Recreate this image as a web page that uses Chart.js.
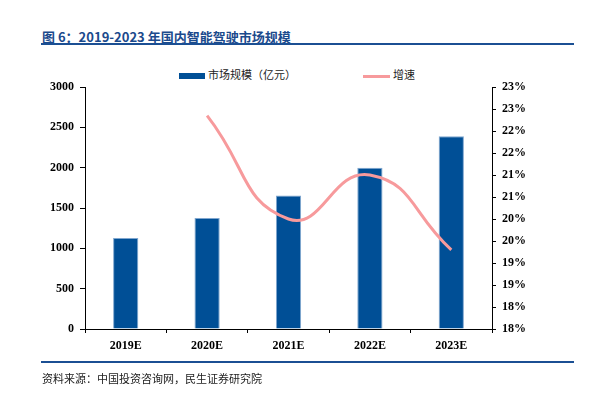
<!DOCTYPE html>
<html>
<head>
<meta charset="utf-8">
<script src="https://cdn.jsdelivr.net/npm/chart.js@4.4.0/dist/chart.umd.min.js"></script>
<style>
  html, body { margin: 0; padding: 0; background: #fff; }
  #wrap { position: relative; width: 616px; height: 395px; overflow: hidden; }
  #chart { position: absolute; left: 0; top: 0; }
  .title { position: absolute; left: 42px; top: 27px; font: bold 13px "Noto Sans CJK SC", sans-serif; color: #1b4a8c; white-space: nowrap; }
  .rule { position: absolute; left: 41px; width: 533px; height: 2px; background: #1b4f93; }
  .source { position: absolute; left: 42px; top: 370px; font: 11px "Noto Sans CJK SC", sans-serif; color: #222; white-space: nowrap; }
  .legend { position: absolute; top: 66px; font: 11px "Noto Sans CJK SC", sans-serif; color: #222; white-space: nowrap; }
  .legend i { display: inline-block; vertical-align: middle; margin-right: 3px; }
</style>
</head>
<body>
<div id="wrap">
  <div class="title">图 6：2019-2023 年国内智能驾驶市场规模</div>
  <div class="rule" style="top:43px"></div>
  <div class="legend" style="left:179px"><i style="width:26px;height:6px;background:#004f96"></i>市场规模（亿元）</div>
  <div class="legend" style="left:363px"><i style="width:27px;height:3px;background:#f79a9c"></i>增速</div>
  <canvas id="chart" width="616" height="395"></canvas>
  <div class="rule" style="top:361px"></div>
  <div class="source">资料来源：中国投资咨询网，民生证券研究院</div>
</div>
<script>
// 数据
const categories = ['2019E', '2020E', '2021E', '2022E', '2023E'];
const marketSize = [1128, 1376, 1655, 2000, 2388];          // 亿元
const growthRate = [null, 22.35, 20.0, 21.0, 19.3];          // %
const leftTickLabels = ['0', '500', '1000', '1500', '2000', '2500', '3000'];
const rightTickLabels = ['18%', '18%', '19%', '19%', '20%', '20%', '21%', '21%', '22%', '22%', '23%', '23%'];

const axisFont = { family: '"Liberation Serif", "Times New Roman", serif', size: 12, weight: 'bold' };

new Chart(document.getElementById('chart'), {
    data: {
        labels: categories,
        datasets: [
            {
                type: 'line',
                label: '增速',
                data: growthRate,
                yAxisID: 'y1',
                borderColor: '#f79a9c',
                borderWidth: 3,
                pointRadius: 0,
                tension: 0.5,
                fill: false,
                order: 0
            },
            {
                type: 'bar',
                label: '市场规模（亿元）',
                data: marketSize,
                yAxisID: 'y',
                backgroundColor: '#004f96',
                borderColor: '#7fa6cf',
                borderWidth: 1,
                barPercentage: 0.31,
                categoryPercentage: 1,
                order: 1
            }
        ]
    },
    options: {
        responsive: false,
        animation: false,
        layout: { padding: { top: 87, left: 0, right: 0, bottom: 36 } },
        plugins: {
            legend: { display: false },
            tooltip: { enabled: false }
        },
        scales: {
            x: {
                offset: true,
                grid: { offset: true, drawOnChartArea: false, tickLength: 4, color: '#000' },
                border: { color: '#000', width: 1 },
                ticks: { color: '#000', font: axisFont, padding: 6 },
                afterFit: function(scale) { scale.height = 30; }
            },
            y: {
                position: 'left',
                min: 0,
                max: 3000,
                grid: { drawOnChartArea: false, tickLength: 5, color: '#000' },
                border: { color: '#000', width: 1 },
                ticks: {
                    stepSize: 500,
                    color: '#000',
                    font: axisFont,
                    padding: 6,
                    callback: function(value, index) { return leftTickLabels[index]; }
                },
                afterFit: function(scale) { scale.width = 85; }
            },
            y1: {
                position: 'right',
                min: 17.5,
                max: 23,
                grid: { drawOnChartArea: false, tickLength: 4, color: '#000' },
                border: { color: '#000', width: 1 },
                ticks: {
                    stepSize: 0.5,
                    color: '#000',
                    font: axisFont,
                    padding: 6,
                    callback: function(value, index) { return rightTickLabels[index]; }
                },
                afterFit: function(scale) { scale.width = 124; }
            }
        }
    }
});
</script>
</body>
</html>
